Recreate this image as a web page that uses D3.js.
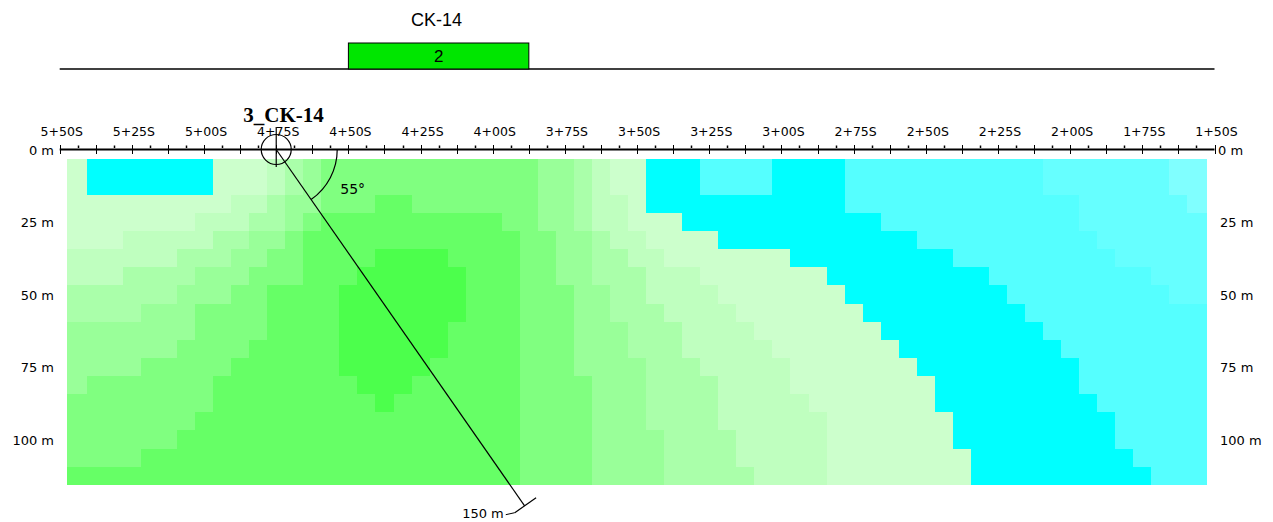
<!DOCTYPE html>
<html>
<head>
<meta charset="utf-8">
<script src="https://cdn.jsdelivr.net/npm/d3@7/dist/d3.min.js"></script>
<style>
body { margin: 0; background: #fff; }
svg { display: block; }
</style>
</head>
<body>
<div class="section"></div>
<script>
// pseudo-section under the CK-14 line, stations 5+50S -> 1+50S

// station axis labels (metres along line)
var labelStations = [550, 525, 500, 475, 450, 425, 400, 375, 350, 325, 300, 275, 250, 225, 200, 175, 150];
var stationLabels = ["5+50S", "5+25S", "5+00S", "4+75S", "4+50S", "4+25S", "4+00S", "3+75S", "3+50S",
                     "3+25S", "3+00S", "2+75S", "2+50S", "2+25S", "2+00S", "1+75S", "1+50S"];
var depthTicks = [25, 50, 75, 100];

// grid: column centre stations and row centre depths
var columnStations = d3.range(63).map(function(i) { return 543.75 - 6.25 * i; });
var rowDepths = d3.range(18).map(function(i) { return 6.25 * (i + 1); });
var gridEdges = [547.5, 152.5];

// colour class per cell, one string per column, top row first
var cellColumns = [
  "pppppqqrrssssttttu", "aapppqqrrssstttttu", "aapppqqrrssstttttu", "aappqqrrrssstttttu",
  "aappqqrrssstttttuu", "aappqqrrssstttttuu", "aappqrrssstttttuuu", "aapqqrssttttttuuuu",
  "pppqrrssttttuuuuuu", "ppqqrssttttuuuuuuu", "ppqrssttttuuuuuuuu", "qqrrsttuuuuuuuuuuu",
  "rrsstttuuuuuuuuuuu", "ssstuuuuuuuuuuuuuu", "tttuuuuuuuuuuuuuuu", "tttuuuuvvvvvuuuuuu",
  "tttuuuvvvvvvvuuuuu", "ttuuuvvvvvvvvvuuuu", "ttuuuvvvvvvvvuuuuu", "tttuuvvvvvvvuuuuuu",
  "tttuuvvvvvvuuuuuuu", "tttuuuvvvuuuuuuuuu", "tttuuuuuuuuuuuuuuu", "tttuuuuuuuuuuuuuuu",
  "ttttuuuuuuuuuuuuuu", "tttttttttttttttttt", "sssstttttttttttttt", "sssssssttttttttttt",
  "rrrrsssssssstttttt", "qqqqrrrsssssssssss", "ppqqqrrrrsssssssss", "ppppqqrrrrrsssssss",
  "aaappqqqrrrrrrrsss", "aaapppqqqrrrrrrrrr", "aaaappqqqqqrrrrrrr", "bbaapppqqqqqrrrrrr",
  "bbaaapppqqqqqqqrrr", "bbaaappppqqqqqqqqr", "bbaaapppppqqqqqqqq", "aaaaappppppqqqqqqq",
  "aaaaaapppppppqqqqq", "aaaaaappppppppqqqq", "aaaaaaappppppppppp", "bbbaaaaapppppppppp",
  "bbbaaaaaappppppppp", "bbbbaaaaaapppppppp", "bbbbaaaaaaappppppp", "bbbbbaaaaaaapppppp",
  "bbbbbaaaaaaaaapppp", "bbbbbbaaaaaaaaaapp", "bbbbbbaaaaaaaaaaaa", "bbbbbbbaaaaaaaaaaa",
  "bbbbbbbbaaaaaaaaaa", "bbbbbbbbbaaaaaaaaa", "ccbbbbbbbbaaaaaaaa", "ccbbbbbbbbbaaaaaaa",
  "ccccbbbbbbbbbaaaaa", "cccccbbbbbbbbbaaaa", "ccccccbbbbbbbbbbaa", "ccccccbbbbbbbbbbba",
  "cccccccbbbbbbbbbbb", "ddccccccbbbbbbbbbb", "dddcccccbbbbbbbbbb"
];
var classCodes = ["a", "b", "c", "d", "p", "q", "r", "s", "t", "u", "v"];
var classColors = ["#00ffff", "#55ffff", "#66ffff", "#80ffff", "#ccffcc", "#bfffbf",
                   "#aaffaa", "#99ff99", "#80ff80", "#66ff66", "#4cff4c"];

// drill hole
var holeName = "3_CK-14";
var holeStation = 475;
var holeDip = 55;
var holeLength = 150;

// header zone
var zoneTitle = "CK-14";
var zoneLabel = "2";
var zoneFrom = 450;
var zoneTo = 387.5;

WIDTH = 1273;
HEIGHT = 522;
SANS = "DejaVu Sans, Liberation Sans, sans-serif";

var svg = d3.select(".section").append("svg")
    .attr("width", WIDTH)
    .attr("height", HEIGHT);

var x = d3.scaleLinear().domain([550, 150]).range([59.7, 1214.5]);
var y = d3.scaleLinear().domain([0, 100]).range([149.5, 439.5]);
var colour = d3.scaleOrdinal().domain(classCodes).range(classColors);

var halfCol = 3.125, halfRow = 3.125;

// cells
var cells = [];
cellColumns.forEach(function(col, j) {
  col.split("").forEach(function(code, i) {
    cells.push({ j: j, i: i, code: code });
  });
});

svg.append("g")
    .attr("shape-rendering", "crispEdges")
  .selectAll("rect")
  .data(cells)
  .join("rect")
    .attr("x", function(d) {
      var s = d.j == 0 ? gridEdges[0] : columnStations[d.j] + halfCol;
      return Math.round(x(s));
    })
    .attr("width", function(d) {
      var s0 = d.j == 0 ? gridEdges[0] : columnStations[d.j] + halfCol;
      var s1 = d.j == cellColumns.length - 1 ? gridEdges[1] : columnStations[d.j] - halfCol;
      return Math.round(x(s1)) - Math.round(x(s0));
    })
    .attr("y", function(d) { return Math.round(y(rowDepths[d.i] - halfRow)); })
    .attr("height", function(d) {
      return Math.round(y(rowDepths[d.i] + halfRow)) - Math.round(y(rowDepths[d.i] - halfRow));
    })
    .attr("fill", function(d) { return colour(d.code); });

// header: line + zone box
svg.append("line")
    .attr("x1", x(550)).attr("x2", x(150))
    .attr("y1", 69).attr("y2", 69)
    .style("stroke", "black")
    .style("stroke-width", "1.5px");

svg.append("rect")
    .attr("x", x(zoneFrom))
    .attr("y", 43)
    .attr("width", x(zoneTo) - x(zoneFrom))
    .attr("height", 26)
    .style("fill", "#00e600")
    .style("stroke", "black")
    .style("stroke-width", "1px");

svg.append("text")
    .attr("x", (x(zoneFrom) + x(zoneTo)) / 2 - 2)
    .attr("y", 26)
    .attr("text-anchor", "middle")
    .style("font-family", "Liberation Sans, Arial, sans-serif")
    .style("font-size", "18px")
    .text(zoneTitle);

svg.append("text")
    .attr("x", (x(zoneFrom) + x(zoneTo)) / 2)
    .attr("y", 62)
    .attr("text-anchor", "middle")
    .style("font-family", "Liberation Sans, Arial, sans-serif")
    .style("font-size", "17px")
    .text(zoneLabel);

// station axis
svg.append("line")
    .attr("x1", x(550)).attr("x2", x(150))
    .attr("y1", 149.5).attr("y2", 149.5)
    .style("stroke", "black")
    .style("stroke-width", "2px");

var majorTicks = d3.range(550, 149, -12.5);
var minorTicks = d3.range(543.75, 150, -12.5);

svg.append("g").selectAll("line")
  .data(majorTicks)
  .join("line")
    .attr("x1", function(d) { return Math.round(x(d)) + 0.5; })
    .attr("x2", function(d) { return Math.round(x(d)) + 0.5; })
    .attr("y1", 145).attr("y2", 154)
    .style("stroke", "black")
    .style("stroke-width", "1px");

svg.append("g").selectAll("line")
  .data(minorTicks)
  .join("line")
    .attr("x1", function(d) { return Math.round(x(d)) + 0.5; })
    .attr("x2", function(d) { return Math.round(x(d)) + 0.5; })
    .attr("y1", 145.5).attr("y2", 148)
    .style("stroke", "black")
    .style("stroke-width", "1.5px");

svg.append("g").selectAll("text")
  .data(labelStations)
  .join("text")
    .attr("x", function(d) { return x(d) + 2; })
    .attr("y", 136)
    .attr("text-anchor", "middle")
    .style("font-family", SANS)
    .style("font-size", "12.5px")
    .text(function(d, i) { return stationLabels[i]; });

// depth labels both sides
var depthAll = [0].concat(depthTicks);
svg.append("g").selectAll("text")
  .data(depthAll)
  .join("text")
    .attr("x", 54)
    .attr("y", function(d) { return y(d) + 5; })
    .attr("text-anchor", "end")
    .style("font-family", SANS)
    .style("font-size", "13px")
    .text(function(d) { return d + " m"; });

svg.append("g").selectAll("text")
  .data(depthAll)
  .join("text")
    .attr("x", function(d) { return d == 0 ? 1218 : 1220; })
    .attr("y", function(d) { return y(d) + 5; })
    .attr("text-anchor", "start")
    .style("font-family", SANS)
    .style("font-size", "13px")
    .text(function(d) { return d + " m"; });

// drill hole
var cx = x(holeStation), cy = y(0);
var rad = holeDip * Math.PI / 180;
var ex = x(holeStation - holeLength * Math.cos(rad));
var ey = y(holeLength * Math.sin(rad));
var len = Math.hypot(ex - cx, ey - cy);
var ux = (ex - cx) / len, uy = (ey - cy) / len;

svg.append("circle")
    .attr("cx", cx).attr("cy", cy).attr("r", 15)
    .style("fill", "none")
    .style("stroke", "black")
    .style("stroke-width", "1.2px");

svg.append("line")
    .attr("x1", cx).attr("x2", cx)
    .attr("y1", 127).attr("y2", 167)
    .style("stroke", "black")
    .style("stroke-width", "1.2px");

svg.append("line")
    .attr("x1", cx).attr("y1", cy)
    .attr("x2", ex).attr("y2", ey)
    .style("stroke", "black")
    .style("stroke-width", "1.2px");

// end tick + depth label
var px = uy, py = -ux;
svg.append("line")
    .attr("x1", ex + 14 * px).attr("y1", ey + 14 * py)
    .attr("x2", ex - 12 * px).attr("y2", ey - 12 * py)
    .style("stroke", "black")
    .style("stroke-width", "1.2px");

svg.append("line")
    .attr("x1", ex - 12 * px).attr("y1", ey - 12 * py)
    .attr("x2", ex - 12 * px - 9).attr("y2", ey - 12 * py + 2)
    .style("stroke", "black")
    .style("stroke-width", "1px");

svg.append("text")
    .attr("x", ex - 12 * px - 11)
    .attr("y", 518)
    .attr("text-anchor", "end")
    .style("font-family", SANS)
    .style("font-size", "13px")
    .text(holeLength + " m");

// dip arc
var arcR = 61;
var arcPath = d3.path();
arcPath.arc(cx, cy, arcR, 0, Math.atan2(uy, ux), false);
svg.append("path")
    .attr("d", arcPath.toString())
    .style("fill", "none")
    .style("stroke", "black")
    .style("stroke-width", "1.2px");

svg.append("text")
    .attr("x", cx + 64)
    .attr("y", cy + 44)
    .style("font-family", SANS)
    .style("font-size", "14px")
    .text(holeDip + "°");

// hole name
svg.append("text")
    .attr("x", cx - 33)
    .attr("y", 122)
    .style("font-family", "Liberation Serif, serif")
    .style("font-weight", "bold")
    .style("font-size", "21px")
    .text(holeName);
</script>
</body>
</html>
